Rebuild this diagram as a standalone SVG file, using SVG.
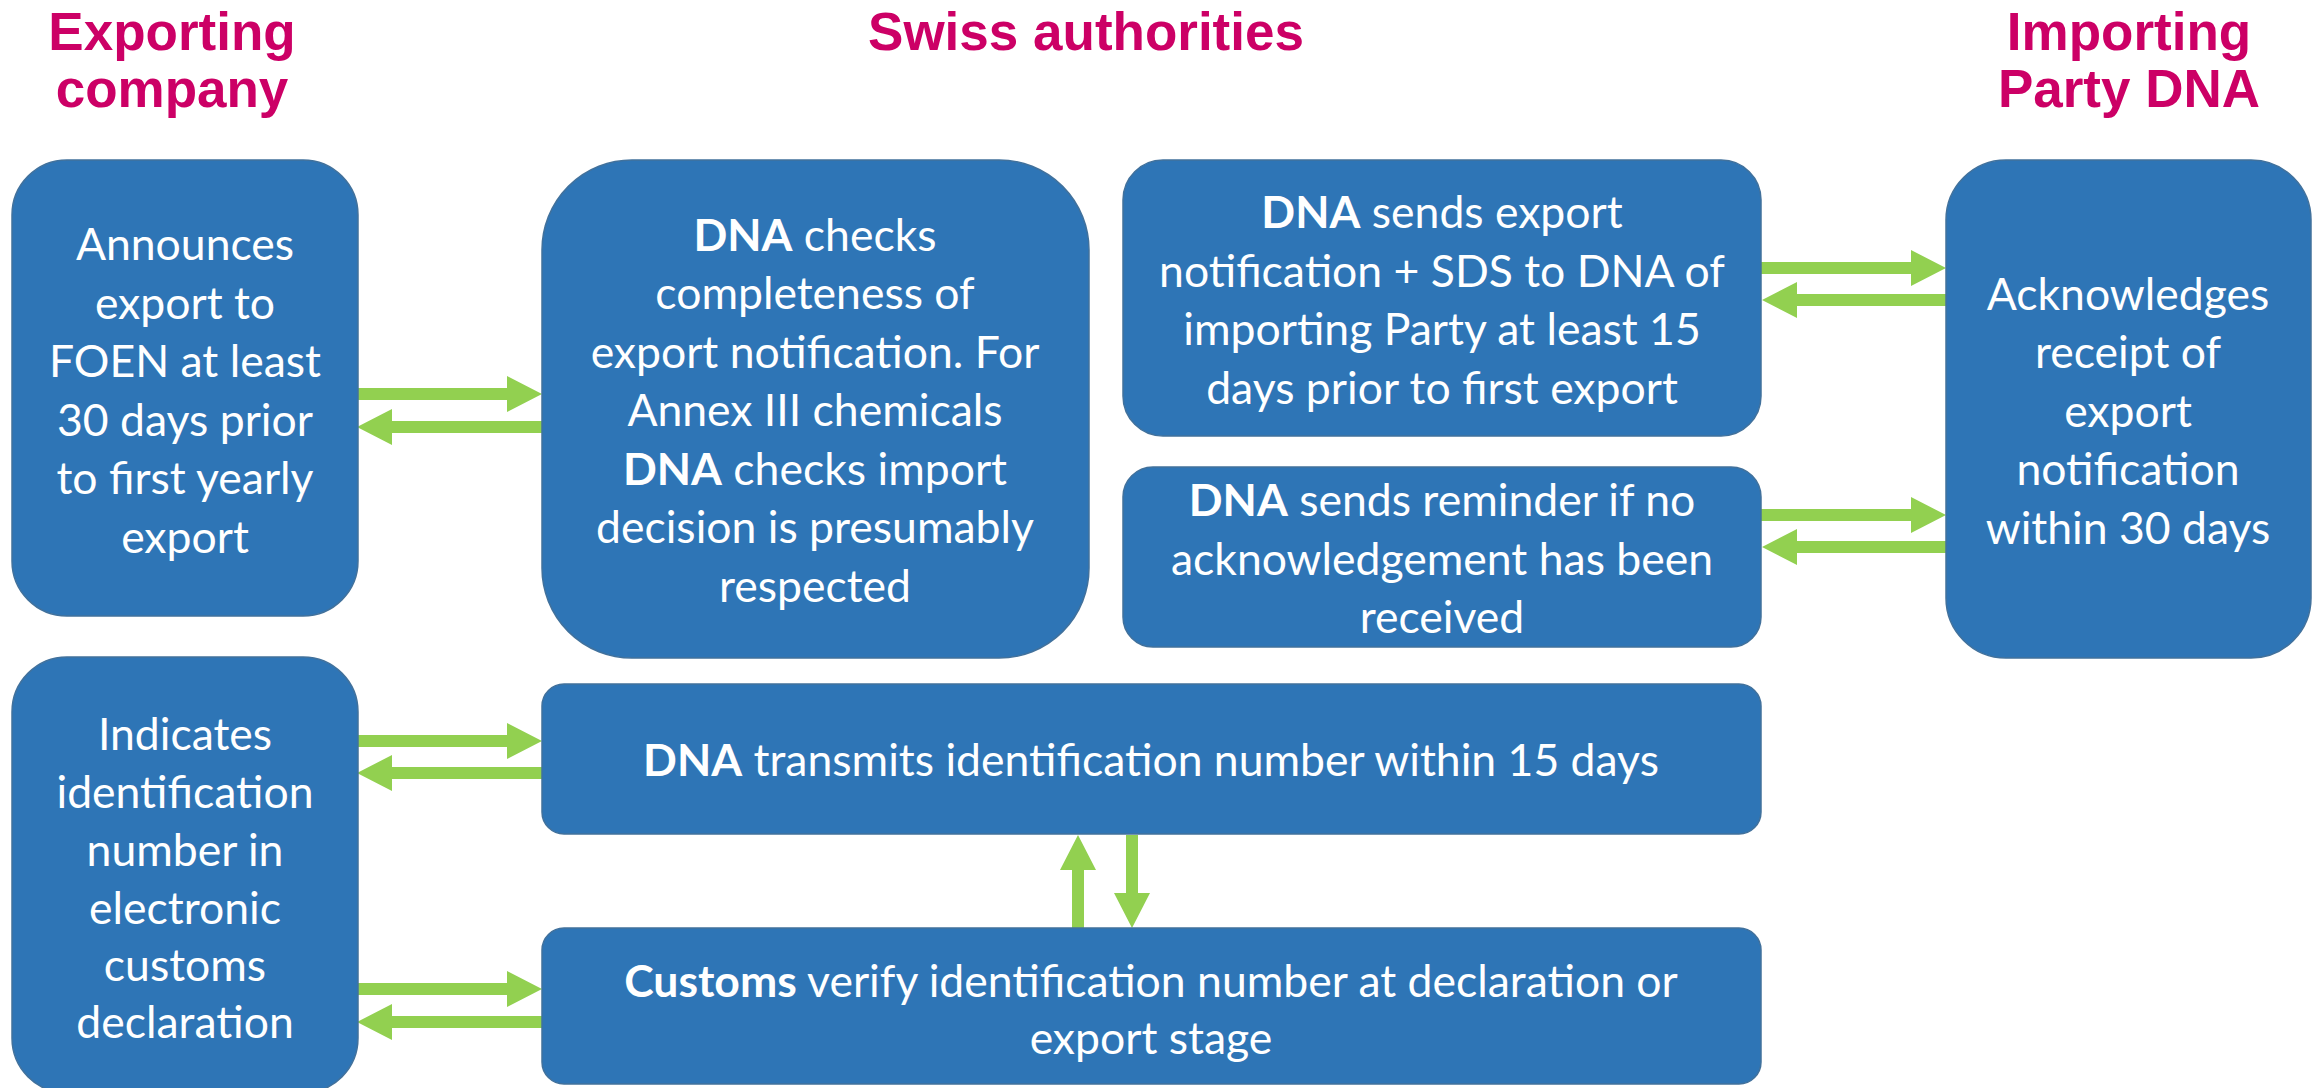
<svg xmlns="http://www.w3.org/2000/svg" width="2323" height="1088" viewBox="0 0 2323 1088">
<style>
.hd{font-family:"Liberation Sans",Arial,sans-serif;font-weight:bold;font-size:53px;fill:#CC0066;text-anchor:middle}
.bx{fill:#2E75B6;stroke:#41719C;stroke-width:1.5}
.tx{font-family:Lato,"Open Sans",sans-serif;font-size:44.5px;fill:#FFFFFF;text-anchor:middle}
.b{font-weight:bold}
.arr{fill:#92D050}
</style>
<rect width="2323" height="1088" fill="#FFFFFF"/>
<g id="headers">
<text class="hd" x="172" y="50">Exporting</text>
<text class="hd" x="172" y="107">company</text>
<text class="hd" x="1086" y="50">Swiss authorities</text>
<text class="hd" x="2129" y="50">Importing</text>
<text class="hd" x="2129" y="107">Party DNA</text>
</g>
<g id="connectors">
<polygon class="arr" points="357,388 507,388 507,376 542,394 507,412 507,400 357,400"/>
<polygon class="arr" points="542,421 392,421 392,409 357,427 392,445 392,433 542,433"/>
<polygon class="arr" points="1761,262 1911,262 1911,250 1946,268 1911,286 1911,274 1761,274"/>
<polygon class="arr" points="1946,294 1797,294 1797,282 1762,300 1797,318 1797,306 1946,306"/>
<polygon class="arr" points="1761,509 1911,509 1911,497 1946,515 1911,533 1911,521 1761,521"/>
<polygon class="arr" points="1946,541 1797,541 1797,529 1762,547 1797,565 1797,553 1946,553"/>
<polygon class="arr" points="357,735 507,735 507,723 542,741 507,759 507,747 357,747"/>
<polygon class="arr" points="542,767 392,767 392,755 357,773 392,791 392,779 542,779"/>
<polygon class="arr" points="357,983 507,983 507,971 542,989 507,1007 507,995 357,995"/>
<polygon class="arr" points="542,1016 392,1016 392,1004 357,1022 392,1040 392,1028 542,1028"/>
<polygon class="arr" points="1072,928 1072,870 1060,870 1078,835 1096,870 1084,870 1084,928"/>
<polygon class="arr" points="1126,835 1126,893 1114,893 1132,928 1150,893 1138,893 1138,835"/>
</g>
<g id="announce">
<rect class="bx" x="12" y="160" width="346" height="456" rx="55"/>
<text class="tx" x="185"><tspan x="185" y="260">Announces</tspan><tspan x="185" y="319">export to</tspan><tspan x="185" y="377">FOEN at least</tspan><tspan x="185" y="436">30 days prior</tspan><tspan x="185" y="494">to first yearly</tspan><tspan x="185" y="553">export</tspan></text>
</g>
<g id="check">
<rect class="bx" x="542" y="160" width="547" height="498" rx="90"/>
<text class="tx" x="815"><tspan x="815" y="251"><tspan class="b">DNA</tspan> checks</tspan><tspan x="815" y="309">completeness of</tspan><tspan x="815" y="368">export notification. For</tspan><tspan x="815" y="426">Annex III chemicals</tspan><tspan x="815" y="485"><tspan class="b">DNA</tspan> checks import</tspan><tspan x="815" y="543">decision is presumably</tspan><tspan x="815" y="602">respected</tspan></text>
</g>
<g id="sendnotif">
<rect class="bx" x="1123" y="160" width="638" height="276" rx="40"/>
<text class="tx" x="1442"><tspan x="1442" y="228"><tspan class="b">DNA</tspan> sends export</tspan><tspan x="1442" y="287">notification + SDS to DNA of</tspan><tspan x="1442" y="345">importing Party at least 15</tspan><tspan x="1442" y="404">days prior to first export</tspan></text>
</g>
<g id="reminder">
<rect class="bx" x="1123" y="467" width="638" height="180" rx="30"/>
<text class="tx" x="1442"><tspan x="1442" y="516"><tspan class="b">DNA</tspan> sends reminder if no</tspan><tspan x="1442" y="575">acknowledgement has been</tspan><tspan x="1442" y="633">received</tspan></text>
</g>
<g id="ack">
<rect class="bx" x="1946" y="160" width="365" height="498" rx="60"/>
<text class="tx" x="2128"><tspan x="2128" y="310">Acknowledges</tspan><tspan x="2128" y="368">receipt of</tspan><tspan x="2128" y="427">export</tspan><tspan x="2128" y="485">notification</tspan><tspan x="2128" y="544">within 30 days</tspan></text>
</g>
<g id="indicate">
<rect class="bx" x="12" y="657" width="346" height="436" rx="55"/>
<text class="tx" x="185"><tspan x="185" y="750">Indicates</tspan><tspan x="185" y="808">identification</tspan><tspan x="185" y="866">number in</tspan><tspan x="185" y="924">electronic</tspan><tspan x="185" y="981">customs</tspan><tspan x="185" y="1038">declaration</tspan></text>
</g>
<g id="transmit">
<rect class="bx" x="542" y="684" width="1219" height="150" rx="22"/>
<text class="tx" x="1151" y="776"><tspan class="b">DNA</tspan> transmits identification number within 15 days</text>
</g>
<g id="customs">
<rect class="bx" x="542" y="928" width="1219" height="156" rx="22"/>
<text class="tx" x="1151"><tspan x="1151" y="997"><tspan class="b">Customs</tspan> verify identification number at declaration or</tspan><tspan x="1151" y="1054">export stage</tspan></text>
</g>
</svg>
